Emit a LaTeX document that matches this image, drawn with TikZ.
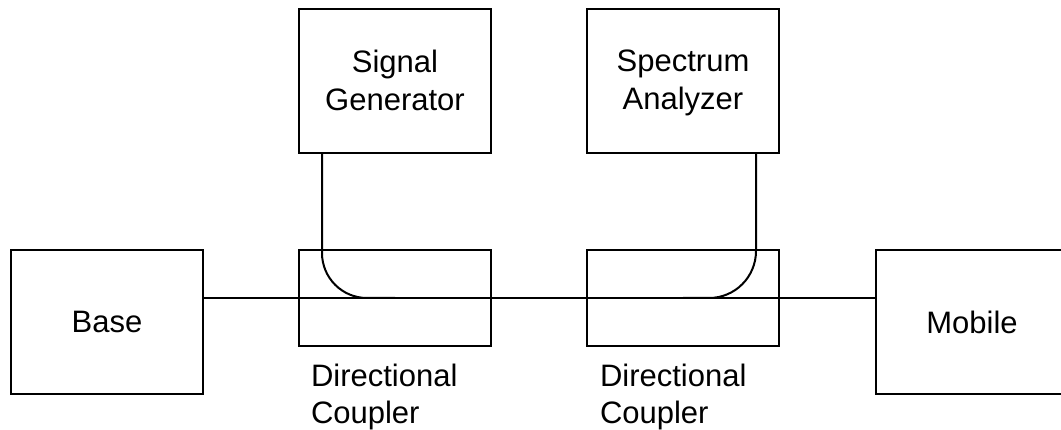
\documentclass[tikz,border=0pt]{standalone}
\usepackage{fontspec}
\setmainfont{Liberation Sans}
% same height and depth for every line, so both instruments set alike
\newcommand{\linestrut}{\rule[-4pt]{0pt}{30pt}}

\begin{document}
\begin{tikzpicture}[x=1pt,y=1pt,line width=2pt,
    box/.style={draw,minimum width=192pt,minimum height=144pt,inner sep=0pt,
      align=center,font=\fontsize{31}{38}\selectfont},
    coupler/.style={draw,minimum width=192pt,minimum height=96pt,inner sep=0pt},
    caption/.style={anchor=north west,inner sep=0pt,align=left,
      font=\fontsize{31}{37}\selectfont}]
  % frame 1061 x 429, mobile box runs off the right edge
  \useasboundingbox (0,0) rectangle (1061,429);
  \clip (0,0) rectangle (1061,429);
  % end stations
  \node[box] (base) at (107,107) {Base};
  \node[box] (mobile) at (972,107) {Mobile};
  % instruments
  \node[box] (siggen) at (395,348) {Signal\linestrut\\Generator\linestrut};
  \node[box] (specan) at (683,348) {Spectrum\linestrut\\Analyzer\linestrut};
  % couplers on the through line
  \node[coupler] (coupler1) at (395,131) {};
  \node[coupler] (coupler2) at (683,131) {};
  \node[caption] (cap1) at ([shift={(12pt,-16pt)}]coupler1.south west) {Directional\\Coupler};
  \node[caption] (cap2) at ([shift={(13pt,-16pt)}]coupler2.south west) {Directional\\Coupler};
  % ports
  \coordinate (sgport) at ([xshift=24pt]siggen.south west);
  \coordinate (saport) at ([xshift=-24pt]specan.south east);
  % through line
  \draw (coupler1.center -| base.east) -- (coupler1.center -| mobile.west);
  % coupled arms
  \draw[rounded corners=45pt] (sgport) |- (coupler1.center);
  \draw[rounded corners=47pt] (saport) |- (coupler2.center);
\end{tikzpicture}
\end{document}
